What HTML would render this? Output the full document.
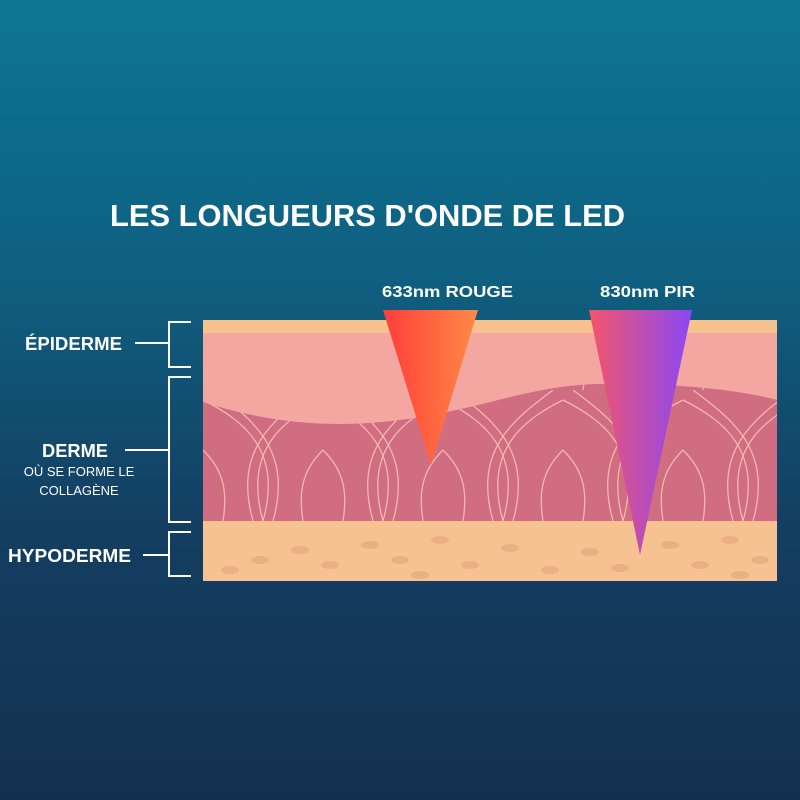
<!DOCTYPE html>
<html><head><style>
body{margin:0;width:800px;height:800px;overflow:hidden;background:linear-gradient(180deg,#0d7693 0%,#0f5f80 35%,#133f62 65%,#14304e 100%);font-family:"Liberation Sans",sans-serif;}
</style></head><body>
<svg width="800" height="800" xmlns="http://www.w3.org/2000/svg" style="position:absolute;left:0;top:0">
<defs>
<linearGradient id="rg" x1="0" x2="1" y1="0" y2="0"><stop offset="0" stop-color="#ff3d3a"/><stop offset="1" stop-color="#ff8a45"/></linearGradient>
<linearGradient id="pg" x1="0" x2="1" y1="0" y2="0"><stop offset="0" stop-color="#f4546b"/><stop offset="1" stop-color="#8a48f5"/></linearGradient>
<clipPath id="dc"><path d="M203,402 C260,420 320,430 400,420 C480,410 530,385 600,384 C680,383 740,390 777,400 L777,521 L203,521 Z"/></clipPath>
<pattern id="col" x="203" y="390" width="120" height="131" patternUnits="userSpaceOnUse">
<g fill="none" stroke="#f3b7ad" stroke-width="1.3">
<path d="M0,10 C40,30 80,60 60,131"/><path d="M10,0 C50,30 90,60 70,131"/>
<path d="M120,10 C80,30 40,60 60,131"/><path d="M110,0 C70,30 30,60 50,131"/>
<path d="M0,60 C20,80 25,100 20,131"/><path d="M120,60 C100,80 95,100 100,131"/>
</g></pattern>
</defs>
<rect x="203" y="320" width="574" height="261" fill="#f4a7a1"/>
<rect x="203" y="320" width="574" height="13" fill="#f8c28e"/>
<g clip-path="url(#dc)"><rect x="203" y="380" width="574" height="141" fill="#d06d81"/><rect x="203" y="380" width="574" height="141" fill="url(#col)"/></g>
<rect x="203" y="521" width="574" height="60" fill="#f7c291"/>
<g fill="#eab083">
<ellipse cx="230" cy="570" rx="9" ry="4"/><ellipse cx="260" cy="560" rx="9" ry="4"/><ellipse cx="300" cy="550" rx="9" ry="4"/><ellipse cx="330" cy="565" rx="9" ry="4"/><ellipse cx="370" cy="545" rx="9" ry="4"/><ellipse cx="400" cy="560" rx="9" ry="4"/><ellipse cx="440" cy="540" rx="9" ry="4"/><ellipse cx="470" cy="565" rx="9" ry="4"/><ellipse cx="510" cy="548" rx="9" ry="4"/><ellipse cx="550" cy="570" rx="9" ry="4"/><ellipse cx="590" cy="552" rx="9" ry="4"/><ellipse cx="620" cy="568" rx="9" ry="4"/><ellipse cx="670" cy="545" rx="9" ry="4"/><ellipse cx="700" cy="565" rx="9" ry="4"/><ellipse cx="730" cy="540" rx="9" ry="4"/><ellipse cx="760" cy="560" rx="9" ry="4"/><ellipse cx="420" cy="575" rx="9" ry="4"/><ellipse cx="740" cy="575" rx="9" ry="4"/>
</g>
<polygon points="383,310 478,310 431,465" fill="url(#rg)"/>
<polygon points="589,310 692,310 640,555" fill="url(#pg)"/>
<g stroke="#fff" stroke-width="2" fill="none">
<path d="M191,322 H169 V367 H191"/><path d="M135,343 H169"/>
<path d="M191,377 H169 V522 H191"/><path d="M125,450 H169"/>
<path d="M191,532 H169 V576 H191"/><path d="M143,555 H169"/>
</g>
<g fill="#fff" font-family="Liberation Sans, sans-serif" font-weight="bold">
<text x="110" y="226" font-size="31" textLength="515" lengthAdjust="spacingAndGlyphs">LES LONGUEURS D'ONDE DE LED</text>
<text x="382" y="297" font-size="16" textLength="131" lengthAdjust="spacingAndGlyphs">633nm ROUGE</text>
<text x="600" y="297" font-size="16" textLength="95" lengthAdjust="spacingAndGlyphs">830nm PIR</text>
<text x="25" y="350" font-size="18" textLength="97" lengthAdjust="spacingAndGlyphs">ÉPIDERME</text>
<text x="42" y="457" font-size="18" textLength="66" lengthAdjust="spacingAndGlyphs">DERME</text>
<text x="8" y="562" font-size="18" textLength="123" lengthAdjust="spacingAndGlyphs">HYPODERME</text>
</g>
<g fill="#fff" font-family="Liberation Sans, sans-serif" font-size="13" text-anchor="middle">
<text x="79" y="476">OÙ SE FORME LE</text>
<text x="79" y="495">COLLAGÈNE</text>
</g>
</svg>
</body></html>
